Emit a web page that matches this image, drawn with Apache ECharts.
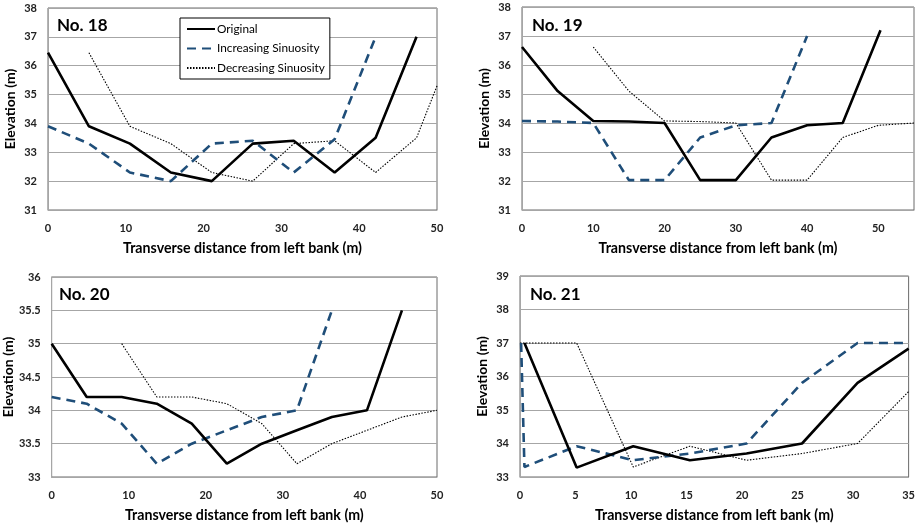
<!DOCTYPE html>
<html><head><meta charset="utf-8">
<script src="https://cdn.jsdelivr.net/npm/echarts@6/dist/echarts.min.js"></script>
<style>html,body{margin:0;padding:0;background:#fff;}#c{width:918px;height:527px;}</style>
</head><body><div id="c"></div>
<script>
// ---- Data ----
var seriesNames = ['Original', 'Increasing Sinuosity', 'Decreasing Sinuosity'];
var panelTitles = ['No. 18', 'No. 19', 'No. 20', 'No. 21'];

// No. 18
var x18orig = [0, 5.26, 10.53, 15.79, 21.05, 26.32, 31.58, 36.84, 42.11, 47.37];
var y18orig = [36.45, 33.9, 33.3, 32.3, 32.0, 33.3, 33.4, 32.3, 33.5, 37.0];
var x18inc = [0, 5.26, 10.53, 15.79, 21.05, 26.32, 31.58, 36.84, 42.11];
var y18inc = [33.9, 33.3, 32.3, 32.0, 33.3, 33.4, 32.3, 33.45, 37.0];
var x18dec = [5.26, 10.53, 15.79, 21.05, 26.32, 31.58, 36.84, 42.11, 47.37, 50];
var y18dec = [36.45, 33.9, 33.3, 32.3, 32.0, 33.3, 33.4, 32.3, 33.5, 35.3];

// No. 19
var x19orig = [0, 5, 10, 15, 20, 25, 30, 35, 40, 45, 50.3];
var y19orig = [36.62, 35.1, 34.07, 34.05, 34.0, 32.03, 32.03, 33.5, 33.92, 34.0, 37.2];
var x19inc = [0, 5, 10, 15, 20, 25, 30, 35, 40];
var y19inc = [34.07, 34.05, 34.0, 32.03, 32.03, 33.5, 33.92, 34.0, 37.0];
var x19dec = [10, 15, 20, 25, 30, 35, 40, 45, 50, 55];
var y19dec = [36.62, 35.1, 34.07, 34.05, 34.0, 32.03, 32.03, 33.5, 33.92, 34.0];

// No. 20
var x20orig = [0, 4.55, 9.09, 13.64, 18.18, 22.73, 27.27, 31.82, 36.36, 40.91, 45.45];
var y20orig = [35.0, 34.2, 34.2, 34.1, 33.8, 33.2, 33.5, 33.7, 33.9, 34.0, 35.5];
var x20inc = [0, 4.55, 9.09, 13.64, 18.18, 22.73, 27.27, 31.82, 36.36];
var y20inc = [34.2, 34.1, 33.8, 33.2, 33.5, 33.7, 33.9, 34.0, 35.5];
var x20dec = [9.09, 13.64, 18.18, 22.73, 27.27, 31.82, 36.36, 40.91, 45.45, 50];
var y20dec = [35.0, 34.2, 34.2, 34.1, 33.8, 33.2, 33.5, 33.7, 33.9, 34.0];

// No. 21
var x21orig = [0.4, 5.1, 10.2, 15.3, 20.4, 25.4, 30.4, 35];
var y21orig = [37.0, 33.28, 33.92, 33.5, 33.7, 34.0, 35.81, 36.83];
var x21inc = [0.1, 0.4, 5.1, 10.2, 15.3, 20.4, 25.4, 30.4, 35];
var y21inc = [37.0, 33.3, 33.92, 33.5, 33.7, 34.0, 35.81, 37.0, 37.0];
var x21dec = [0, 5.1, 10.2, 15.3, 20.4, 25.4, 30.4, 35];
var y21dec = [37.0, 37.0, 33.3, 33.92, 33.5, 33.7, 34.0, 35.55];

// axis ranges
var xMax = [50, 55, 50, 35];
var xInterval = [10, 10, 10, 5];
var yMin = [31, 31, 33, 33];
var yMax = [38, 38, 36, 39];
var yInterval = [1, 1, 0.5, 1];

var panels = [
  [[x18orig, y18orig], [x18inc, y18inc], [x18dec, y18dec]],
  [[x19orig, y19orig], [x19inc, y19inc], [x19dec, y19dec]],
  [[x20orig, y20orig], [x20inc, y20inc], [x20dec, y20dec]],
  [[x21orig, y21orig], [x21inc, y21inc], [x21dec, y21dec]]
];

function zip(xs, ys) { return xs.map(function (x, i) { return [x, ys[i]]; }); }

var FONT = 'Lato, "Open Sans", sans-serif';
var grids = [
  {left: 48, top: 8, width: 389, height: 202},
  {left: 522, top: 7, width: 392, height: 203},
  {left: 50, top: 277, width: 387, height: 200},
  {left: 520, top: 276, width: 391, height: 201}
];
var titlePos = [[57, 17], [532, 17], [59, 286], [530, 286]];

var styles = [
  {color: '#000000', width: 2.6, type: 'solid'},
  {color: '#1F4E79', width: 2.6, type: [9, 6]},
  {color: '#000000', width: 1.1, type: [1.5, 1.5]}
];

var option = {
  backgroundColor: '#ffffff',
  animation: false,
  textStyle: {fontFamily: FONT},
  title: panelTitles.map(function (t, i) {
    return {text: t, left: titlePos[i][0], top: titlePos[i][1], padding: 0,
      textStyle: {fontFamily: FONT, fontSize: 17, fontWeight: 'bold', color: '#000'}};
  }),
  legend: {
    data: seriesNames,
    orient: 'vertical',
    left: 180, top: 18,
    padding: [5, 5, 5, 6],
    itemWidth: 28, itemHeight: 14, itemGap: 7.5,
    backgroundColor: '#fff',
    borderColor: '#000', borderWidth: 1,
    itemStyle: {opacity: 0},
    textStyle: {fontFamily: FONT, fontSize: 11.8, color: '#000', padding: [0, 0, 0, -3]},
    selectedMode: false
  },
  grid: grids.map(function (g) {
    return Object.assign({show: true, borderColor: '#6a6a6a', borderWidth: 1, backgroundColor: '#fff'}, g);
  }),
  xAxis: grids.map(function (g, i) {
    return {
      type: 'value', gridIndex: i, min: 0, max: xMax[i], interval: xInterval[i],
      name: 'Transverse distance from left bank (m)', nameLocation: 'middle', nameGap: 31,
      nameTextStyle: {fontFamily: FONT, fontSize: 14.2, fontWeight: 'bold', color: '#000'},
      axisLine: {show: true, lineStyle: {color: '#a6a6a6', width: 1}},
      axisTick: {show: false},
      splitLine: {show: false},
      axisLabel: {margin: 13, fontFamily: FONT, fontSize: 11, fontWeight: 'bold', color: '#222',
        formatter: function (v) { return (v % xInterval[i] === 0) ? String(v) : ''; }}
    };
  }),
  yAxis: grids.map(function (g, i) {
    return {
      type: 'value', gridIndex: i, min: yMin[i], max: yMax[i], interval: yInterval[i],
      name: 'Elevation (m)', nameLocation: 'middle', nameGap: 31,
      nameTextStyle: {fontFamily: FONT, fontSize: 14, fontWeight: 'bold', color: '#000'},
      axisLine: {show: true, lineStyle: {color: '#a6a6a6', width: 1}},
      axisTick: {show: false},
      splitLine: {show: true, lineStyle: {color: '#a6a6a6', width: 1}},
      axisLabel: {margin: 11, fontFamily: FONT, fontSize: 11, fontWeight: 'bold', color: '#222'}
    };
  }),
  series: []
};

panels.forEach(function (p, i) {
  p.forEach(function (s, k) {
    option.series.push({
      name: seriesNames[k], type: 'line', xAxisIndex: i, yAxisIndex: i,
      data: zip(s[0], s[1]), symbol: 'none', clip: true, z: 5 - k,
      lineStyle: {color: styles[k].color, width: styles[k].width, type: styles[k].type},
      itemStyle: {color: styles[k].color}
    });
  });
});

var chart = echarts.init(document.getElementById('c'), null, {renderer: 'canvas'});
chart.setOption(option);
</script></body></html>
